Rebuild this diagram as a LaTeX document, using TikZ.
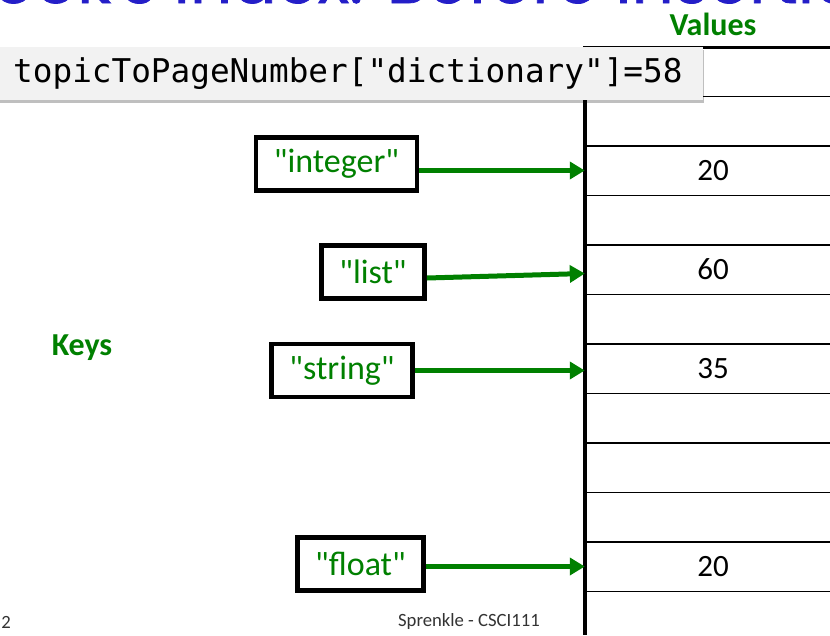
\documentclass[tikz,border=0pt]{standalone}
\usepackage{fontspec}
\setmainfont{Carlito}[Ligatures=TeXOff]
\newfontfamily\titlefont{Poppins}[FakeBold=1.2]
\newfontfamily\codefont{DejaVu Sans Mono}
\usetikzlibrary{arrows.meta, shadows}
\definecolor{keygreen}{RGB}{0,128,0}
\definecolor{titleblue}{RGB}{36,30,200}
\definecolor{codegray}{RGB}{242,242,242}
\tikzset{
  keybox/.style={draw=black, line width=4.7pt, fill=white, text=keygreen,
    font=\fontsize{34}{40}\selectfont, inner xsep=18pt, inner ysep=0pt, minimum height=53pt},
  cell/.style={minimum width=256pt, minimum height=49.5pt, inner sep=0pt,
    font=\fontsize{31}{36}\selectfont},
  link/.style={draw=keygreen, line width=5pt, -{Triangle[length=15pt, width=17pt]}},
  rowline/.style={line width=1.6pt},
  headtext/.style={text=keygreen, font=\bfseries\fontsize{32}{38}\selectfont},
  footer/.style={text=black!80, font=\fontsize{18.7}{22}\selectfont},
  codebox/.style={fill=codegray, inner xsep=20pt, inner ysep=0pt, minimum height=53pt,
    font=\codefont\fontsize{32.7}{38}\selectfont,
    drop shadow={shadow xshift=1pt, shadow yshift=-2.5pt, fill=black, opacity=.25}}
}

\begin{document}
\begin{tikzpicture}[x=1pt, y=-1pt]
    \path[use as bounding box, clip] (0,0) rectangle (830,635);
    \node[anchor=base west, inner sep=0pt, text=titleblue, font=\titlefont\fontsize{66}{70}\selectfont]
      (title) at (-48,3) {Book's Index: Before Insertion};
    % table of values
    \foreach \i in {1,...,11}
      \draw[rowline] (585,{47+49.5*\i}) -- (830,{47+49.5*\i});
    \draw[line width=3pt] (583,47) -- (830,47);
    \draw[line width=4pt] (585,47) -- (585,635);
    \node[cell] (vint) at (713,170.5) {20};
    \node[cell] (vlist) at (713,269.5) {60};
    \node[cell] (vstr) at (713,368.5) {35};
    \node[cell] (vflt) at (713,566.5) {20};
    \node[headtext] (values) at (713,24) {Values};
    \node[headtext] (keys) at (82,348) {Keys};
    % keys
    \node[keybox] (kint) at (336.5,164) {"integer"};
    \node[keybox] (klist) at (373,272) {"list"};
    \node[keybox] (kstr) at (342,370.5) {"string"};
    \node[keybox] (kflt) at (360.5,564) {"float"};
    \draw[link] (kint.east |- vint.west) -- (vint.west);
    \draw[link] ([yshift=-6pt]klist.east) -- ([yshift=-4pt]vlist.west);
    \draw[link] (kstr.east) -- (kstr.east -| vstr.west);
    \draw[link] (kflt.east |- vflt.west) -- (vflt.west);
    % code line
    \node[codebox, anchor=west] (code) at (-7,73.5) {topicToPageNumber["dictionary"]=58};
    \node[footer] (page) at (6,622) {2};
    \node[footer] (credit) at (469,622) {Sprenkle - CSCI111};
\end{tikzpicture}
\end{document}
